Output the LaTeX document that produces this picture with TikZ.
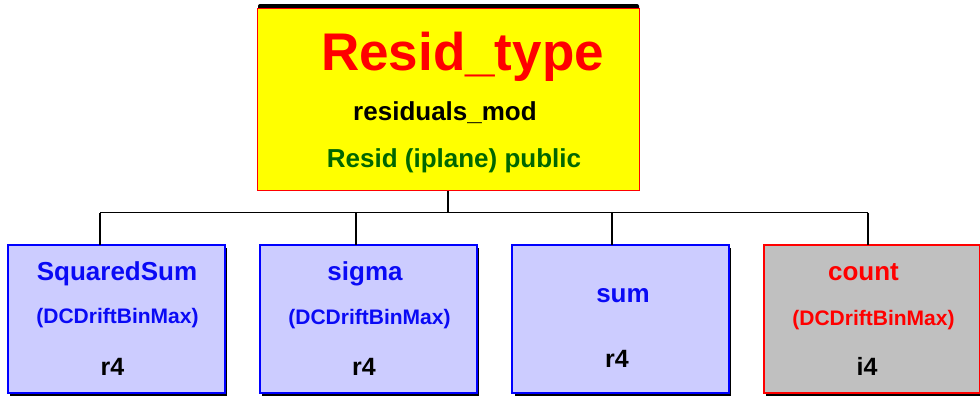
\documentclass[tikz,border=0pt]{standalone}
\usepackage{fontspec}
\setmainfont{Liberation Sans}
\definecolor{topyellow}{RGB}{255,255,0}
\definecolor{topred}{RGB}{255,0,0}
\definecolor{pgreen}{RGB}{0,102,0}
\definecolor{boxblue}{RGB}{0,0,255}
\definecolor{boxfill}{RGB}{204,204,255}
\definecolor{boxgray}{RGB}{192,192,192}
\definecolor{txtblue}{RGB}{10,10,245}
\begin{document}
\begin{tikzpicture}[x=1pt,y=-1pt,
  every node/.style={inner sep=0pt,outer sep=0pt,font=\bfseries},
  topbox/.style={draw=topred,fill=topyellow,line width=1.5pt,minimum width=382pt,minimum height=182pt,anchor=north west},
  leafbox/.style={draw=boxblue,fill=boxfill,line width=2pt,minimum width=217pt,minimum height=148pt,anchor=north west},
  graybox/.style={draw=topred,fill=boxgray,line width=2pt,minimum width=216pt,minimum height=148pt,anchor=north west},
  shadow/.style={fill=black},
  conn/.style={draw=black,line width=1.3pt},
  lbl/.style={anchor=base}]
\useasboundingbox (0,0) rectangle (980,397);
% top box
\fill[shadow,rounded corners=2pt] (258,4) rectangle (639,14);
\node[topbox] (top) at (257.5,8.5) {};
\node[lbl,text=topred,font=\bfseries\fontsize{53}{60}\selectfont] (t1) at (462.5,70) {Resid\_type};
\node[lbl,text=black,font=\bfseries\fontsize{26}{30}\selectfont] (t2) at (445,120) {residuals\_mod};
\node[lbl,text=pgreen,font=\bfseries\fontsize{26}{30}\selectfont] (t3) at (454,167) {Resid (iplane) public};
% shadows of leaf boxes
\fill[shadow] (10,248) rectangle (227,396);
\fill[shadow] (262,248) rectangle (479,396);
\fill[shadow] (515,248) rectangle (731,396);
\fill[shadow] (766,248) rectangle (982,396);
% leaf boxes
\node[leafbox] (b1) at (7.5,244.5) {};
\node[leafbox] (b2) at (259.5,244.5) {};
\node[leafbox] (b3) at (511.5,244.5) {};
\node[graybox] (b4) at (763.5,244.5) {};
% texts
\node[lbl,text=txtblue,font=\bfseries\fontsize{26}{30}\selectfont] (s1) at (117,280) {SquaredSum};
\node[lbl,text=txtblue,font=\bfseries\fontsize{21}{25}\selectfont] (s2) at (117.5,323) {(DCDriftBinMax)};
\node[lbl,text=black,font=\bfseries\fontsize{25}{28}\selectfont] (s3) at (112.5,375) {r4};
\node[lbl,text=txtblue,font=\bfseries\fontsize{26}{30}\selectfont] (g1) at (365,280) {sigma};
\node[lbl,text=txtblue,font=\bfseries\fontsize{21}{25}\selectfont] (g2) at (369.5,324) {(DCDriftBinMax)};
\node[lbl,text=black,font=\bfseries\fontsize{25}{28}\selectfont] (g3) at (364,375) {r4};
\node[lbl,text=txtblue,font=\bfseries\fontsize{26}{30}\selectfont] (u1) at (623,302) {sum};
\node[lbl,text=black,font=\bfseries\fontsize{25}{28}\selectfont] (u3) at (617,367) {r4};
\node[lbl,text=topred,font=\bfseries\fontsize{26}{30}\selectfont] (c1) at (863.5,280) {count};
\node[lbl,text=topred,font=\bfseries\fontsize{21}{25}\selectfont] (c2) at (873.5,325) {(DCDriftBinMax)};
\node[lbl,text=black,font=\bfseries\fontsize{25}{28}\selectfont] (c3) at (867,375) {i4};
% connectors
\coordinate (bus) at (448,212.5);
\coordinate (j1) at (100,212.5);
\coordinate (j2) at (356,212.5);
\coordinate (j3) at (612,212.5);
\coordinate (j4) at (868,212.5);
\draw[conn] (top.south -| bus) -- (bus);
\draw[conn] (j1) -- (j4);
\draw[conn] (j1) -- (j1 |- b1.north);
\draw[conn] (j2) -- (j2 |- b2.north);
\draw[conn] (j3) -- (j3 |- b3.north);
\draw[conn] (j4) -- (j4 |- b4.north);
\end{tikzpicture}
\end{document}
